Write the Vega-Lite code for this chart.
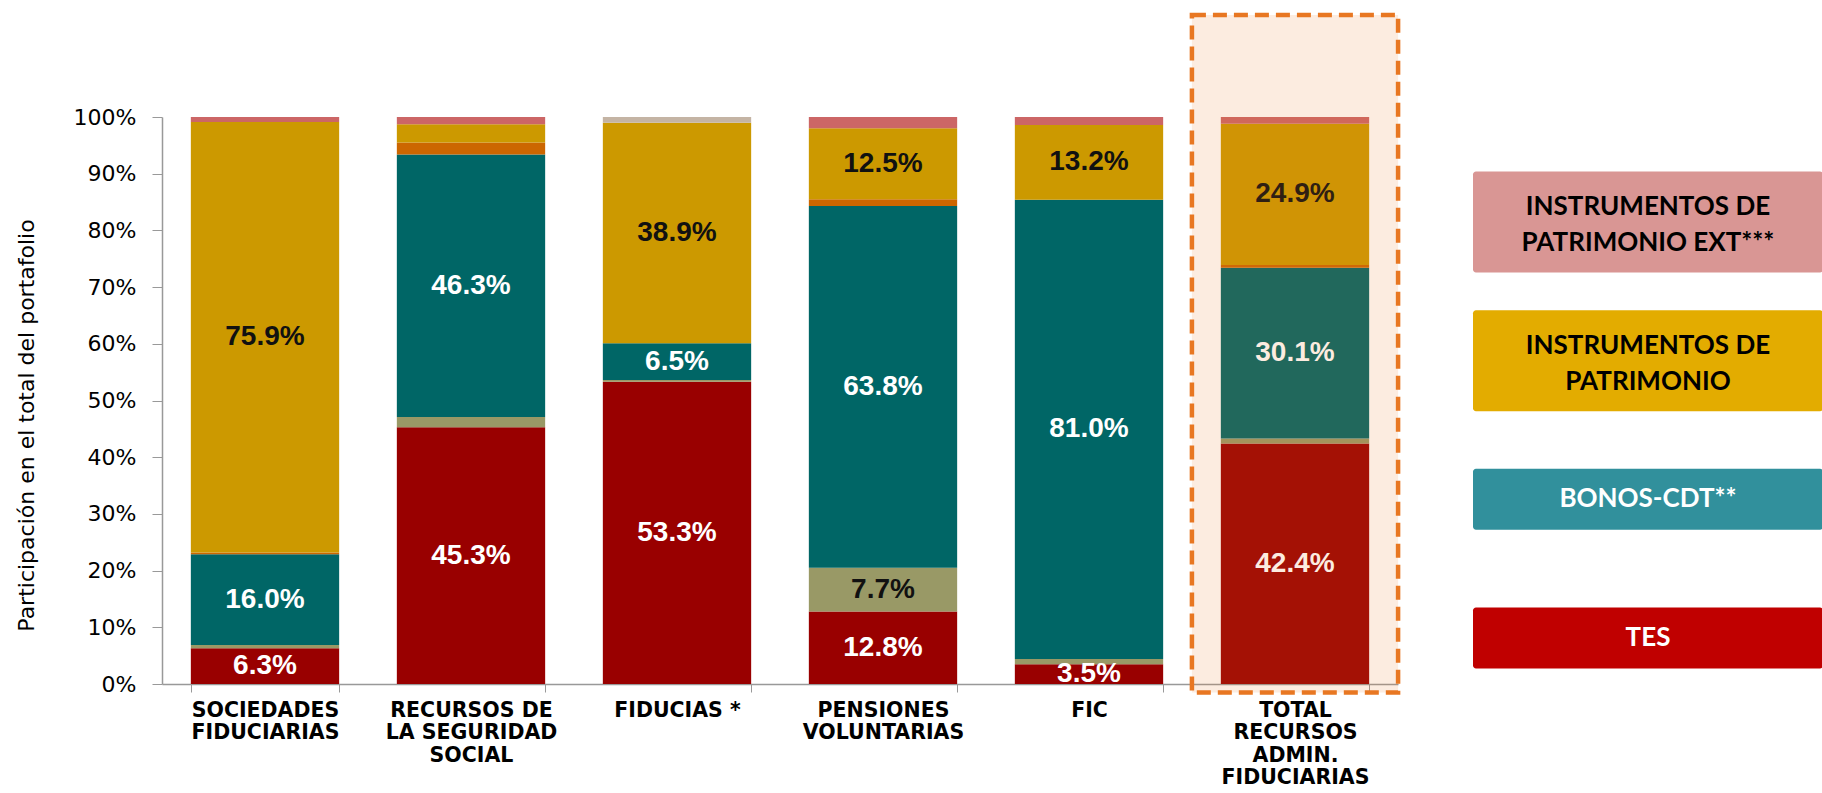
{
  "$schema": "https://vega.github.io/schema/vega-lite/v6.json",
  "autosize": {"type": "pad"},
  "padding": {"left": 15, "top": 12, "right": 0, "bottom": 0},
  "background": "#ffffff",
  "config": {"view": {"stroke": null}, "font": "Liberation Sans"},
  "datasets": {
    "cartera": [
      {"categoria": "SOCIEDADES\nFIDUCIARIAS", "serie": "TES", "orden": 1, "valor": 0.063},
      {"categoria": "SOCIEDADES\nFIDUCIARIAS", "serie": "OTROS TÍTULOS DE DEUDA", "orden": 2, "valor": 0.006},
      {"categoria": "SOCIEDADES\nFIDUCIARIAS", "serie": "BONOS-CDT**", "orden": 3, "valor": 0.160},
      {"categoria": "SOCIEDADES\nFIDUCIARIAS", "serie": "TÍTULOS DE DEUDA EXT", "orden": 4, "valor": 0.003},
      {"categoria": "SOCIEDADES\nFIDUCIARIAS", "serie": "INSTRUMENTOS DE PATRIMONIO", "orden": 5, "valor": 0.759},
      {"categoria": "SOCIEDADES\nFIDUCIARIAS", "serie": "INSTRUMENTOS DE PATRIMONIO EXT***", "orden": 6, "valor": 0.009},
      {"categoria": "RECURSOS DE\nLA SEGURIDAD\nSOCIAL", "serie": "TES", "orden": 1, "valor": 0.453},
      {"categoria": "RECURSOS DE\nLA SEGURIDAD\nSOCIAL", "serie": "OTROS TÍTULOS DE DEUDA", "orden": 2, "valor": 0.018},
      {"categoria": "RECURSOS DE\nLA SEGURIDAD\nSOCIAL", "serie": "BONOS-CDT**", "orden": 3, "valor": 0.463},
      {"categoria": "RECURSOS DE\nLA SEGURIDAD\nSOCIAL", "serie": "TÍTULOS DE DEUDA EXT", "orden": 4, "valor": 0.021},
      {"categoria": "RECURSOS DE\nLA SEGURIDAD\nSOCIAL", "serie": "INSTRUMENTOS DE PATRIMONIO", "orden": 5, "valor": 0.032},
      {"categoria": "RECURSOS DE\nLA SEGURIDAD\nSOCIAL", "serie": "INSTRUMENTOS DE PATRIMONIO EXT***", "orden": 6, "valor": 0.013},
      {"categoria": "FIDUCIAS *", "serie": "TES", "orden": 1, "valor": 0.533},
      {"categoria": "FIDUCIAS *", "serie": "OTROS TÍTULOS DE DEUDA", "orden": 2, "valor": 0.003},
      {"categoria": "FIDUCIAS *", "serie": "BONOS-CDT**", "orden": 3, "valor": 0.065},
      {"categoria": "FIDUCIAS *", "serie": "INSTRUMENTOS DE PATRIMONIO", "orden": 5, "valor": 0.389},
      {"categoria": "FIDUCIAS *", "serie": "OTROS", "orden": 7, "valor": 0.010},
      {"categoria": "PENSIONES\nVOLUNTARIAS", "serie": "TES", "orden": 1, "valor": 0.128},
      {"categoria": "PENSIONES\nVOLUNTARIAS", "serie": "OTROS TÍTULOS DE DEUDA", "orden": 2, "valor": 0.077},
      {"categoria": "PENSIONES\nVOLUNTARIAS", "serie": "BONOS-CDT**", "orden": 3, "valor": 0.638},
      {"categoria": "PENSIONES\nVOLUNTARIAS", "serie": "TÍTULOS DE DEUDA EXT", "orden": 4, "valor": 0.012},
      {"categoria": "PENSIONES\nVOLUNTARIAS", "serie": "INSTRUMENTOS DE PATRIMONIO", "orden": 5, "valor": 0.125},
      {"categoria": "PENSIONES\nVOLUNTARIAS", "serie": "INSTRUMENTOS DE PATRIMONIO EXT***", "orden": 6, "valor": 0.020},
      {"categoria": "FIC", "serie": "TES", "orden": 1, "valor": 0.035},
      {"categoria": "FIC", "serie": "OTROS TÍTULOS DE DEUDA", "orden": 2, "valor": 0.009},
      {"categoria": "FIC", "serie": "BONOS-CDT**", "orden": 3, "valor": 0.810},
      {"categoria": "FIC", "serie": "INSTRUMENTOS DE PATRIMONIO", "orden": 5, "valor": 0.132},
      {"categoria": "FIC", "serie": "INSTRUMENTOS DE PATRIMONIO EXT***", "orden": 6, "valor": 0.014},
      {"categoria": "TOTAL\nRECURSOS\nADMIN.\nFIDUCIARIAS", "serie": "TES", "orden": 1, "valor": 0.424},
      {"categoria": "TOTAL\nRECURSOS\nADMIN.\nFIDUCIARIAS", "serie": "OTROS TÍTULOS DE DEUDA", "orden": 2, "valor": 0.009},
      {"categoria": "TOTAL\nRECURSOS\nADMIN.\nFIDUCIARIAS", "serie": "BONOS-CDT**", "orden": 3, "valor": 0.301},
      {"categoria": "TOTAL\nRECURSOS\nADMIN.\nFIDUCIARIAS", "serie": "TÍTULOS DE DEUDA EXT", "orden": 4, "valor": 0.005},
      {"categoria": "TOTAL\nRECURSOS\nADMIN.\nFIDUCIARIAS", "serie": "INSTRUMENTOS DE PATRIMONIO", "orden": 5, "valor": 0.249},
      {"categoria": "TOTAL\nRECURSOS\nADMIN.\nFIDUCIARIAS", "serie": "INSTRUMENTOS DE PATRIMONIO EXT***", "orden": 6, "valor": 0.012}
    ],
    "destacado": [
      {"categoria": "TOTAL\nRECURSOS\nADMIN.\nFIDUCIARIAS"}
    ],
    "leyenda": [
      {"etiqueta": "INSTRUMENTOS DE\nPATRIMONIO EXT***"},
      {"etiqueta": "INSTRUMENTOS DE\nPATRIMONIO"},
      {"etiqueta": "BONOS-CDT**"},
      {"etiqueta": "TES"}
    ]
  },
  "resolve": {"scale": {"color": "independent"}},
  "spacing": 72,
  "hconcat": [
    {
      "width": 1236,
      "height": 567,
      "encoding": {
        "x": {
          "field": "categoria",
          "type": "nominal",
          "sort": null,
          "scale": {
            "domain": ["SOCIEDADES\nFIDUCIARIAS", "RECURSOS DE\nLA SEGURIDAD\nSOCIAL", "FIDUCIAS *", "PENSIONES\nVOLUNTARIAS", "FIC", "TOTAL\nRECURSOS\nADMIN.\nFIDUCIARIAS"],
            "paddingInner": 0.28,
            "paddingOuter": 0.14
          },
          "axis": {
            "title": null,
            "labelAngle": 0,
            "labelExpr": "isValid(datum.value) ? split(datum.value, '\\n') : ''",
            "labelFont": "DejaVu Sans",
            "labelFontWeight": "bold",
            "labelFontSize": 20.5,
            "labelLineHeight": 22.5,
            "labelColor": "#000000",
            "labelPadding": 8,
            "labelLimit": 400,
            "tickBand": "extent",
            "tickSize": 8,
            "tickColor": "#999999",
            "domainColor": "#999999",
            "domainWidth": 1.5
          }
        }
      },
      "layer": [
        {
          "data": {"name": "cartera"},
          "mark": {"type": "bar"},
          "encoding": {
            "y": {
              "field": "valor",
              "type": "quantitative",
              "stack": "zero",
              "title": "Participación en el total del portafolio",
              "scale": {"domain": [0, 1], "nice": false},
              "axis": {
                "titleFont": "DejaVu Sans",
                "titleFontSize": 22,
                "titleFontWeight": "normal",
                "titleColor": "#000000",
                "titlePadding": 35,
                "titleY": 308,
                "format": ".0%",
                "values": [0, 0.1, 0.2, 0.3, 0.4, 0.5, 0.6, 0.7, 0.8, 0.9, 1],
                "grid": false,
                "labelFont": "DejaVu Sans",
                "labelFontSize": 22,
                "labelColor": "#000000",
                "labelPadding": 16,
                "tickSize": 10,
                "tickColor": "#999999",
                "domainColor": "#999999",
                "domainWidth": 1.5
              }
            },
            "color": {
              "field": "serie",
              "type": "nominal",
              "scale": {
                "domain": ["TES", "OTROS TÍTULOS DE DEUDA", "BONOS-CDT**", "TÍTULOS DE DEUDA EXT", "INSTRUMENTOS DE PATRIMONIO", "INSTRUMENTOS DE PATRIMONIO EXT***", "OTROS"],
                "range": ["#990000", "#999966", "#006666", "#CC6600", "#CC9900", "#CC6666", "#C4B4A4"]
              },
              "legend": null
            },
            "order": {"field": "orden", "type": "quantitative"}
          }
        },
        {
          "data": {"name": "cartera"},
          "transform": [
            {"stack": "valor", "groupby": ["categoria"], "sort": [{"field": "orden", "order": "ascending"}], "as": ["v0", "v1"], "offset": "zero"},
            {"calculate": "(datum.v0 + datum.v1) / 2", "as": "medio"},
            {"filter": "datum.valor >= 0.035"}
          ],
          "mark": {"type": "text", "clip": true, "font": "Liberation Sans", "fontWeight": "bold", "fontSize": 28, "baseline": "middle", "align": "center"},
          "encoding": {
            "y": {"field": "medio", "type": "quantitative", "title": "Participación en el total del portafolio"},
            "text": {"field": "valor", "type": "quantitative", "format": ".1%"},
            "color": {
              "condition": {"test": "datum.serie == 'TES' || datum.serie == 'BONOS-CDT**'", "value": "#ffffff"},
              "value": "#111111"
            }
          }
        },
        {
          "data": {"name": "destacado"},
          "mark": {
            "type": "rect",
            "width": {"band": 1.39},
            "fill": "#E87722",
            "fillOpacity": 0.14,
            "stroke": "#E87722",
            "strokeWidth": 4.5,
            "strokeDash": [14, 7]
          },
          "encoding": {
            "y": {"datum": 1.18, "type": "quantitative", "title": "Participación en el total del portafolio"},
            "y2": {"datum": -0.015}
          }
        }
      ]
    },
    {
      "width": 350,
      "height": 567,
      "data": {"name": "leyenda"},
      "encoding": {
        "y": {"field": "etiqueta", "type": "nominal", "sort": null, "scale": {"type": "point", "range": [105, 521], "padding": 0}, "axis": null}
      },
      "layer": [
        {
          "transform": [{"filter": "indexof(datum.etiqueta, '\\n') >= 0"}],
          "mark": {"type": "rect", "height": 101, "cornerRadius": 3},
          "encoding": {
            "x": {"datum": 0, "type": "quantitative", "scale": {"domain": [0, 1]}, "axis": null},
            "x2": {"datum": 1},
            "color": {
              "field": "etiqueta", "type": "nominal",
              "scale": {"domain": ["INSTRUMENTOS DE\nPATRIMONIO EXT***", "INSTRUMENTOS DE\nPATRIMONIO", "BONOS-CDT**", "TES"], "range": ["#D99694", "#E3AC00", "#31909C", "#C00000"]},
              "legend": null
            }
          }
        },
        {
          "transform": [{"filter": "indexof(datum.etiqueta, '\\n') < 0"}],
          "mark": {"type": "rect", "height": 61, "cornerRadius": 3},
          "encoding": {
            "x": {"datum": 0, "type": "quantitative", "scale": {"domain": [0, 1]}, "axis": null},
            "x2": {"datum": 1},
            "color": {
              "field": "etiqueta", "type": "nominal",
              "scale": {"domain": ["INSTRUMENTOS DE\nPATRIMONIO EXT***", "INSTRUMENTOS DE\nPATRIMONIO", "BONOS-CDT**", "TES"], "range": ["#D99694", "#E3AC00", "#31909C", "#C00000"]},
              "legend": null
            }
          }
        },
        {
          "transform": [{"filter": "indexof(datum.etiqueta, '\\n') >= 0"}],
          "mark": {"type": "text", "lineBreak": "\n", "lineHeight": 36, "dy": -15, "font": "Lato", "fontWeight": "bold", "fontSize": 26, "align": "center", "baseline": "middle", "color": "#000000"},
          "encoding": {
            "x": {"datum": 0.5, "type": "quantitative", "scale": {"domain": [0, 1]}, "axis": null},
            "text": {"field": "etiqueta"}
          }
        },
        {
          "transform": [{"filter": "indexof(datum.etiqueta, '\\n') < 0"}],
          "mark": {"type": "text", "font": "Lato", "fontWeight": "bold", "fontSize": 26, "align": "center", "baseline": "middle", "color": "#ffffff"},
          "encoding": {
            "x": {"datum": 0.5, "type": "quantitative", "scale": {"domain": [0, 1]}, "axis": null},
            "text": {"field": "etiqueta"}
          }
        }
      ]
    }
  ]
}
